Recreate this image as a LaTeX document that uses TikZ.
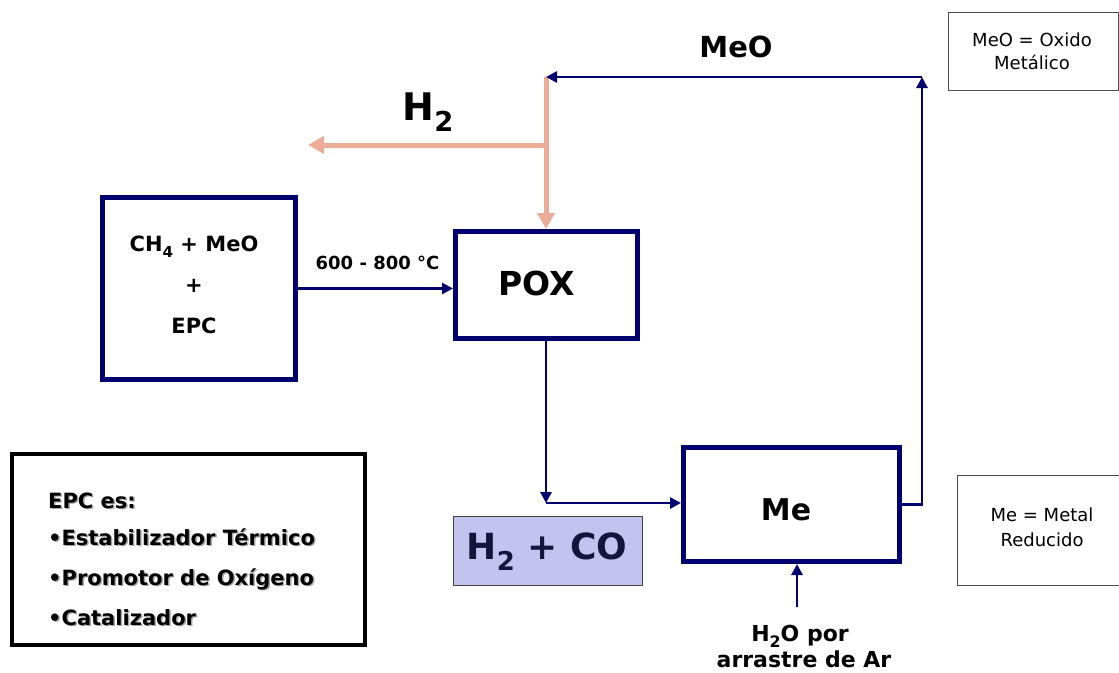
\documentclass[tikz,border=0pt]{standalone}
\usepackage{fontspec}
\setmainfont{DejaVu Sans}
\usepackage{graphicx}
\usetikzlibrary{arrows.meta}
\definecolor{navy}{RGB}{0,0,110}
\definecolor{salmon}{RGB}{236,172,152}
\definecolor{lav}{RGB}{195,195,240}
\definecolor{darkink}{RGB}{20,20,60}
\definecolor{shadowgray}{RGB}{165,165,165}
\newcommand\lowsub[1]{\raisebox{-0.3em}{\scalebox{0.72}{#1}}}
\begin{document}
\begin{tikzpicture}[x=1pt,y=-1pt,
  procbox/.style={draw=navy, line width=5pt, fill=white, inner sep=0pt},
  legendbox/.style={draw=black!70, line width=1pt, inner sep=0pt},
  flow/.style={draw=navy, line width=2.8pt, -{Triangle[length=11pt,width=11pt]}},
  hflow/.style={draw=salmon, line width=5pt, -{Triangle[length=16pt,width=17pt]}},
  lbl/.style={inner sep=0pt, font=\bfseries},
  epctxt/.style={inner sep=0pt, anchor=base west, font=\bfseries\fontsize{21}{25}\selectfont},
]
\useasboundingbox (0,0) rectangle (1119,672);

% process boxes
\node[procbox, minimum width=193pt, minimum height=182pt] (feed) at (199,288.5) {};
\node[procbox, minimum width=182pt, minimum height=107pt] (pox) at (546.5,285) {};
\node[procbox, minimum width=216pt, minimum height=114pt] (me) at (791.5,504.5) {};
\node[draw=black!75, line width=1pt, fill=lav, minimum width=189pt, minimum height=69pt, inner sep=0pt] (syn) at (547.5,550.5) {};

% texts in boxes
\node[lbl, align=center, font=\bfseries\fontsize{21}{41}\selectfont] (feedtxt) at (194,285) {CH\lowsub{4} + MeO\\+\\EPC};
\node[lbl, font=\bfseries\fontsize{33}{38}\selectfont] (poxtxt) at (537,283) {POX};
\node[lbl, font=\bfseries\fontsize{30}{34}\selectfont] (metxt) at (786,510) {Me};
\node[lbl, text=darkink, font=\bfseries\fontsize{36}{40}\selectfont] (syntxt) at (547,552) {H\lowsub{2} + CO};

% EPC box
\node[draw=black, line width=4pt, minimum width=353pt, minimum height=191pt, inner sep=0pt] (epc) at (188.5,549.5) {};
\foreach \t/\y [count=\i] in {EPC es:/508, {\textbullet Estabilizador Térmico}/545, {\textbullet Promotor de Oxígeno}/585, {\textbullet Catalizador}/625}{
  \node[epctxt, text=shadowgray] (epcs\i) at (49.5,\y+1.5) {\t};
  \node[epctxt] (epct\i) at (48,\y) {\t};
}

% legend boxes
\node[legendbox, minimum width=169.5pt, minimum height=78pt] (legmeo) at (1033.25,51) {};
\node[inner sep=0pt, align=center, font=\fontsize{18}{23}\selectfont] (legmeotxt) at (1032,51) {MeO = Oxido\\Metálico};
\node[legendbox, minimum width=164pt, minimum height=110pt] (legme) at (1039,530) {};
\node[inner sep=0pt, align=center, font=\fontsize{18}{25}\selectfont] (legmetxt) at (1042,527) {Me = Metal\\Reducido};

% labels
\node[lbl, anchor=base, font=\bfseries\fontsize{29}{33}\selectfont] (meolbl) at (736,57) {MeO};
\node[lbl, anchor=base, font=\bfseries\fontsize{38}{42}\selectfont] (h2lbl) at (428,120) {H\lowsub{2}};
\node[lbl, anchor=base, font=\bfseries\fontsize{18}{22}\selectfont] (templbl) at (377.5,269) {600 - 800 °C};
\node[lbl, anchor=base, font=\bfseries\fontsize{22}{23}\selectfont] (h2olbl1) at (800,641) {H\lowsub{2}O por};
\node[lbl, anchor=base, font=\bfseries\fontsize{22}{23}\selectfont] (h2olbl2) at (804,667) {arrastre de Ar};

% coordinates
\coordinate (top) at (546,77);
\coordinate (corner) at (922,77);
\coordinate (h2tip) at (308,145);
\coordinate (h2split) at (546,145);
\coordinate (join) at (546,503);
\coordinate (water) at (797,607);

% hydrogen (salmon) connectors
\draw[hflow] (top) -- (top |- pox.north);
\draw[hflow] (h2split) -- (h2tip);

% navy connectors
\draw[flow] (me.east) -| (corner);
\draw[flow] (corner) -- (top);
\draw[flow] (pox.south -| join) -- (join);
\draw[flow] (join) -- (join -| me.west);
\draw[flow] (feed.east) -- (feed.east -| pox.west);
\draw[flow] (water) -- (water |- me.south);
\end{tikzpicture}
\end{document}
